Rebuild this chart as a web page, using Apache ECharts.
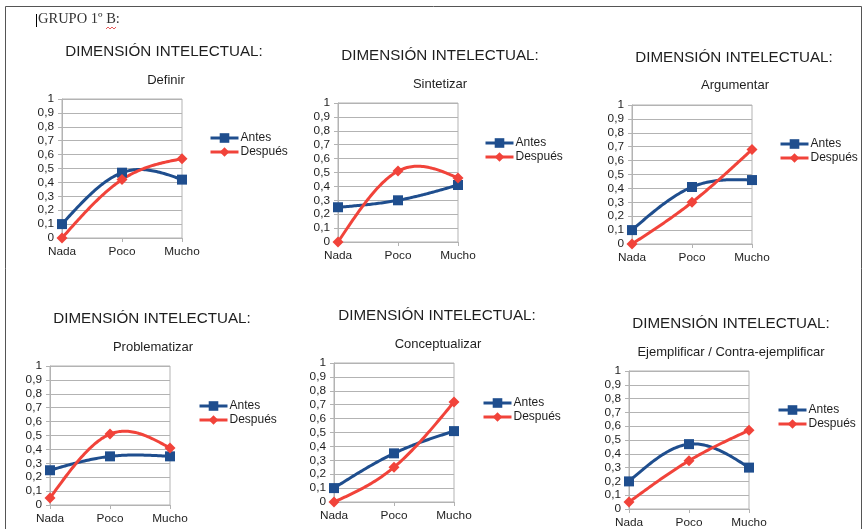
<!DOCTYPE html>
<html>
<head>
<meta charset="utf-8">
<script src="https://cdn.jsdelivr.net/npm/echarts@6/dist/echarts.min.js"></script>
<style>
  html, body { margin: 0; padding: 0; background: #ffffff; }
  #c { width: 866px; height: 529px; }
</style>
</head>
<body>
<div id="c"></div>
<script>
// ---- data ----
const categories = ['Nada', 'Poco', 'Mucho'];
const yTickLabels = ['0', '0,1', '0,2', '0,3', '0,4', '0,5', '0,6', '0,7', '0,8', '0,9', '1'];
const seriesNames = ['Antes', 'Después'];
const groupLabel = 'GRUPO 1º B:';
const heading = 'DIMENSIÓN INTELECTUAL:';
const skills = ['Definir', 'Sintetizar', 'Argumentar', 'Problematizar', 'Conceptualizar', 'Ejemplificar / Contra-ejemplificar'];

const antesDefinir = [0.10, 0.47, 0.42];
const despuesDefinir = [0.00, 0.42, 0.57];
const antesSintetizar = [0.25, 0.30, 0.41];
const despuesSintetizar = [0.00, 0.51, 0.46];
const antesArgumentar = [0.10, 0.41, 0.46];
const despuesArgumentar = [0.00, 0.30, 0.68];
const antesProblematizar = [0.25, 0.35, 0.35];
const despuesProblematizar = [0.05, 0.51, 0.41];
const antesConceptualizar = [0.10, 0.35, 0.51];
const despuesConceptualizar = [0.00, 0.25, 0.72];
const antesEjemplificar = [0.20, 0.47, 0.30];
const despuesEjemplificar = [0.05, 0.35, 0.57];

const antesAll = [antesDefinir, antesSintetizar, antesArgumentar, antesProblematizar, antesConceptualizar, antesEjemplificar];
const despuesAll = [despuesDefinir, despuesSintetizar, despuesArgumentar, despuesProblematizar, despuesConceptualizar, despuesEjemplificar];

// ---- panel layout (plot area, headings, legend) ----
const panels = [
  { gx: 62,  gy: 99,  hx: 164, hy: 44,  sx: 166, sy: 74,  lx: 209, ly: 132 },
  { gx: 338, gy: 103, hx: 440, hy: 48,  sx: 440, sy: 78,  lx: 484, ly: 137 },
  { gx: 632, gy: 105, hx: 734, hy: 50,  sx: 735, sy: 79,  lx: 779, ly: 138 },
  { gx: 50,  gy: 366, hx: 152, hy: 311, sx: 153, sy: 341, lx: 198, ly: 400 },
  { gx: 334, gy: 363, hx: 437, hy: 308, sx: 438, sy: 338, lx: 482, ly: 397 },
  { gx: 629, gy: 371, hx: 731, hy: 316, sx: 731, sy: 346, lx: 777, ly: 404 }
];
const PW = 120, PH = 139;

const FONT = '"Liberation Sans", Arial, sans-serif';
const BLUE = '#1f4e8e';
const RED = '#f1433a';
const GRID = '#b3b3b3';
const TXT = '#1e1e1e';
const LINE_W = 3;

// Natural cubic spline through pixel points, sampled for drawing.
function naturalSpline(pts, steps) {
  const n = pts.length;
  if (n < 3) return pts.slice();
  const h = [], M = new Array(n).fill(0);
  for (let i = 0; i < n - 1; i++) h.push(pts[i + 1][0] - pts[i][0]);
  // tridiagonal system for interior second derivatives
  const a = [], b = [], c = [], d = [];
  for (let i = 1; i < n - 1; i++) {
    a.push(h[i - 1]);
    b.push(2 * (h[i - 1] + h[i]));
    c.push(h[i]);
    d.push(6 * ((pts[i + 1][1] - pts[i][1]) / h[i] - (pts[i][1] - pts[i - 1][1]) / h[i - 1]));
  }
  const m = b.length;
  for (let i = 1; i < m; i++) {
    const w = a[i] / b[i - 1];
    b[i] -= w * c[i - 1];
    d[i] -= w * d[i - 1];
  }
  const sol = new Array(m);
  sol[m - 1] = d[m - 1] / b[m - 1];
  for (let i = m - 2; i >= 0; i--) sol[i] = (d[i] - c[i] * sol[i + 1]) / b[i];
  for (let i = 0; i < m; i++) M[i + 1] = sol[i];

  const out = [];
  for (let i = 0; i < n - 1; i++) {
    const x0 = pts[i][0], x1 = pts[i + 1][0], y0 = pts[i][1], y1 = pts[i + 1][1], hi = h[i];
    for (let s = 0; s <= steps; s++) {
      if (i > 0 && s === 0) continue;
      const x = x0 + hi * s / steps;
      const A = x1 - x, B = x - x0;
      const y = M[i] * A * A * A / (6 * hi) + M[i + 1] * B * B * B / (6 * hi)
              + (y0 / hi - M[i] * hi / 6) * A + (y1 / hi - M[i + 1] * hi / 6) * B;
      out.push([x, y]);
    }
  }
  return out;
}

function splineSeries(values, axisIdx, color) {
  return {
    type: 'custom', xAxisIndex: axisIdx, yAxisIndex: axisIdx,
    data: values.map((v, k) => [k, v]),
    silent: true,
    renderItem: (params, api) => {
      if (params.dataIndex !== 0) return null;
      const px = values.map((v, k) => api.coord([k, v]));
      return {
        type: 'polyline',
        shape: { points: naturalSpline(px, 40) },
        style: { stroke: color, lineWidth: LINE_W, fill: 'none', lineJoin: 'round', lineCap: 'round' }
      };
    }
  };
}

const grids = [], xAxes = [], yAxes = [], series = [], titles = [], legends = [];

panels.forEach((p, i) => {
  grids.push({
    left: p.gx, top: p.gy, width: PW, height: PH,
    show: true, borderColor: GRID, borderWidth: 1, backgroundColor: 'transparent'
  });
  xAxes.push({
    type: 'category', gridIndex: i, data: categories, boundaryGap: false,
    axisLine: { lineStyle: { color: GRID, width: 1 } },
    axisTick: { show: true, length: 4, lineStyle: { color: GRID } },
    axisLabel: { color: TXT, fontSize: 11.8, fontFamily: FONT, margin: 8 },
    splitLine: { show: false }
  });
  yAxes.push({
    type: 'value', gridIndex: i, min: 0, max: 1, interval: 0.1,
    axisLine: { show: true, lineStyle: { color: GRID, width: 1 } },
    axisTick: { show: true, length: 4, lineStyle: { color: GRID } },
    axisLabel: {
      color: TXT, fontSize: 11.8, fontFamily: FONT, margin: 8,
      formatter: v => yTickLabels[Math.round(v * 10)]
    },
    splitLine: { show: true, lineStyle: { color: GRID, width: 1 } }
  });
  // Antes: spline curve, then its square markers
  series.push(splineSeries(antesAll[i], i, BLUE));
  series.push({
    name: seriesNames[0], type: 'line', xAxisIndex: i, yAxisIndex: i,
    data: antesAll[i],
    symbol: 'rect', symbolSize: 10,
    lineStyle: { color: BLUE, width: 0 },
    itemStyle: { color: BLUE },
    emphasis: { disabled: true }
  });
  // Después: spline curve, then its diamond markers
  series.push(splineSeries(despuesAll[i], i, RED));
  series.push({
    name: seriesNames[1], type: 'line', xAxisIndex: i, yAxisIndex: i,
    data: despuesAll[i],
    symbol: 'diamond', symbolSize: 11,
    lineStyle: { color: RED, width: 0 },
    itemStyle: { color: RED },
    emphasis: { disabled: true }
  });
  titles.push({
    text: heading, left: p.hx, top: p.hy, textAlign: 'center', padding: 0,
    textStyle: { fontSize: 15.2, fontWeight: 'normal', color: TXT, fontFamily: FONT }
  });
  titles.push({
    text: skills[i], left: p.sx, top: p.sy, textAlign: 'center', padding: 0,
    textStyle: { fontSize: 13, fontWeight: 'normal', color: TXT, fontFamily: FONT }
  });
  legends.push({
    left: p.lx, top: p.ly, orient: 'vertical', padding: 0,
    data: seriesNames, itemWidth: 28, itemHeight: 12, itemGap: 2,
    selectedMode: false,
    lineStyle: { width: LINE_W },
    textStyle: { fontSize: 12, color: TXT, fontFamily: FONT, padding: [0, 0, 0, -3] }
  });
});

const chart = echarts.init(document.getElementById('c'), null, { renderer: 'canvas' });
chart.setOption({
  backgroundColor: '#ffffff',
  animation: false,
  title: titles,
  legend: legends,
  grid: grids,
  xAxis: xAxes,
  yAxis: yAxes,
  series: series,
  graphic: [
    { type: 'rect', silent: true, shape: { x: 5.5, y: 6.5, width: 856, height: 600 },
      style: { fill: 'none', stroke: '#555555', lineWidth: 1 } },
    { type: 'line', silent: true, shape: { x1: 36.5, y1: 14, x2: 36.5, y2: 27 },
      style: { stroke: '#000000', lineWidth: 1 } },
    { type: 'text', silent: true,
      style: { text: groupLabel, x: 38, y: 19.5, verticalAlign: 'middle',
               font: '14.5px "Liberation Serif", "Times New Roman", serif', fill: '#333333' } },
    { type: 'polyline', silent: true,
      shape: { points: [[106, 29], [108, 27], [110, 29], [112, 27], [114, 29], [116, 27]] },
      style: { stroke: '#e03030', lineWidth: 0.8, fill: 'none' } }
  ]
});
</script>
</body>
</html>
